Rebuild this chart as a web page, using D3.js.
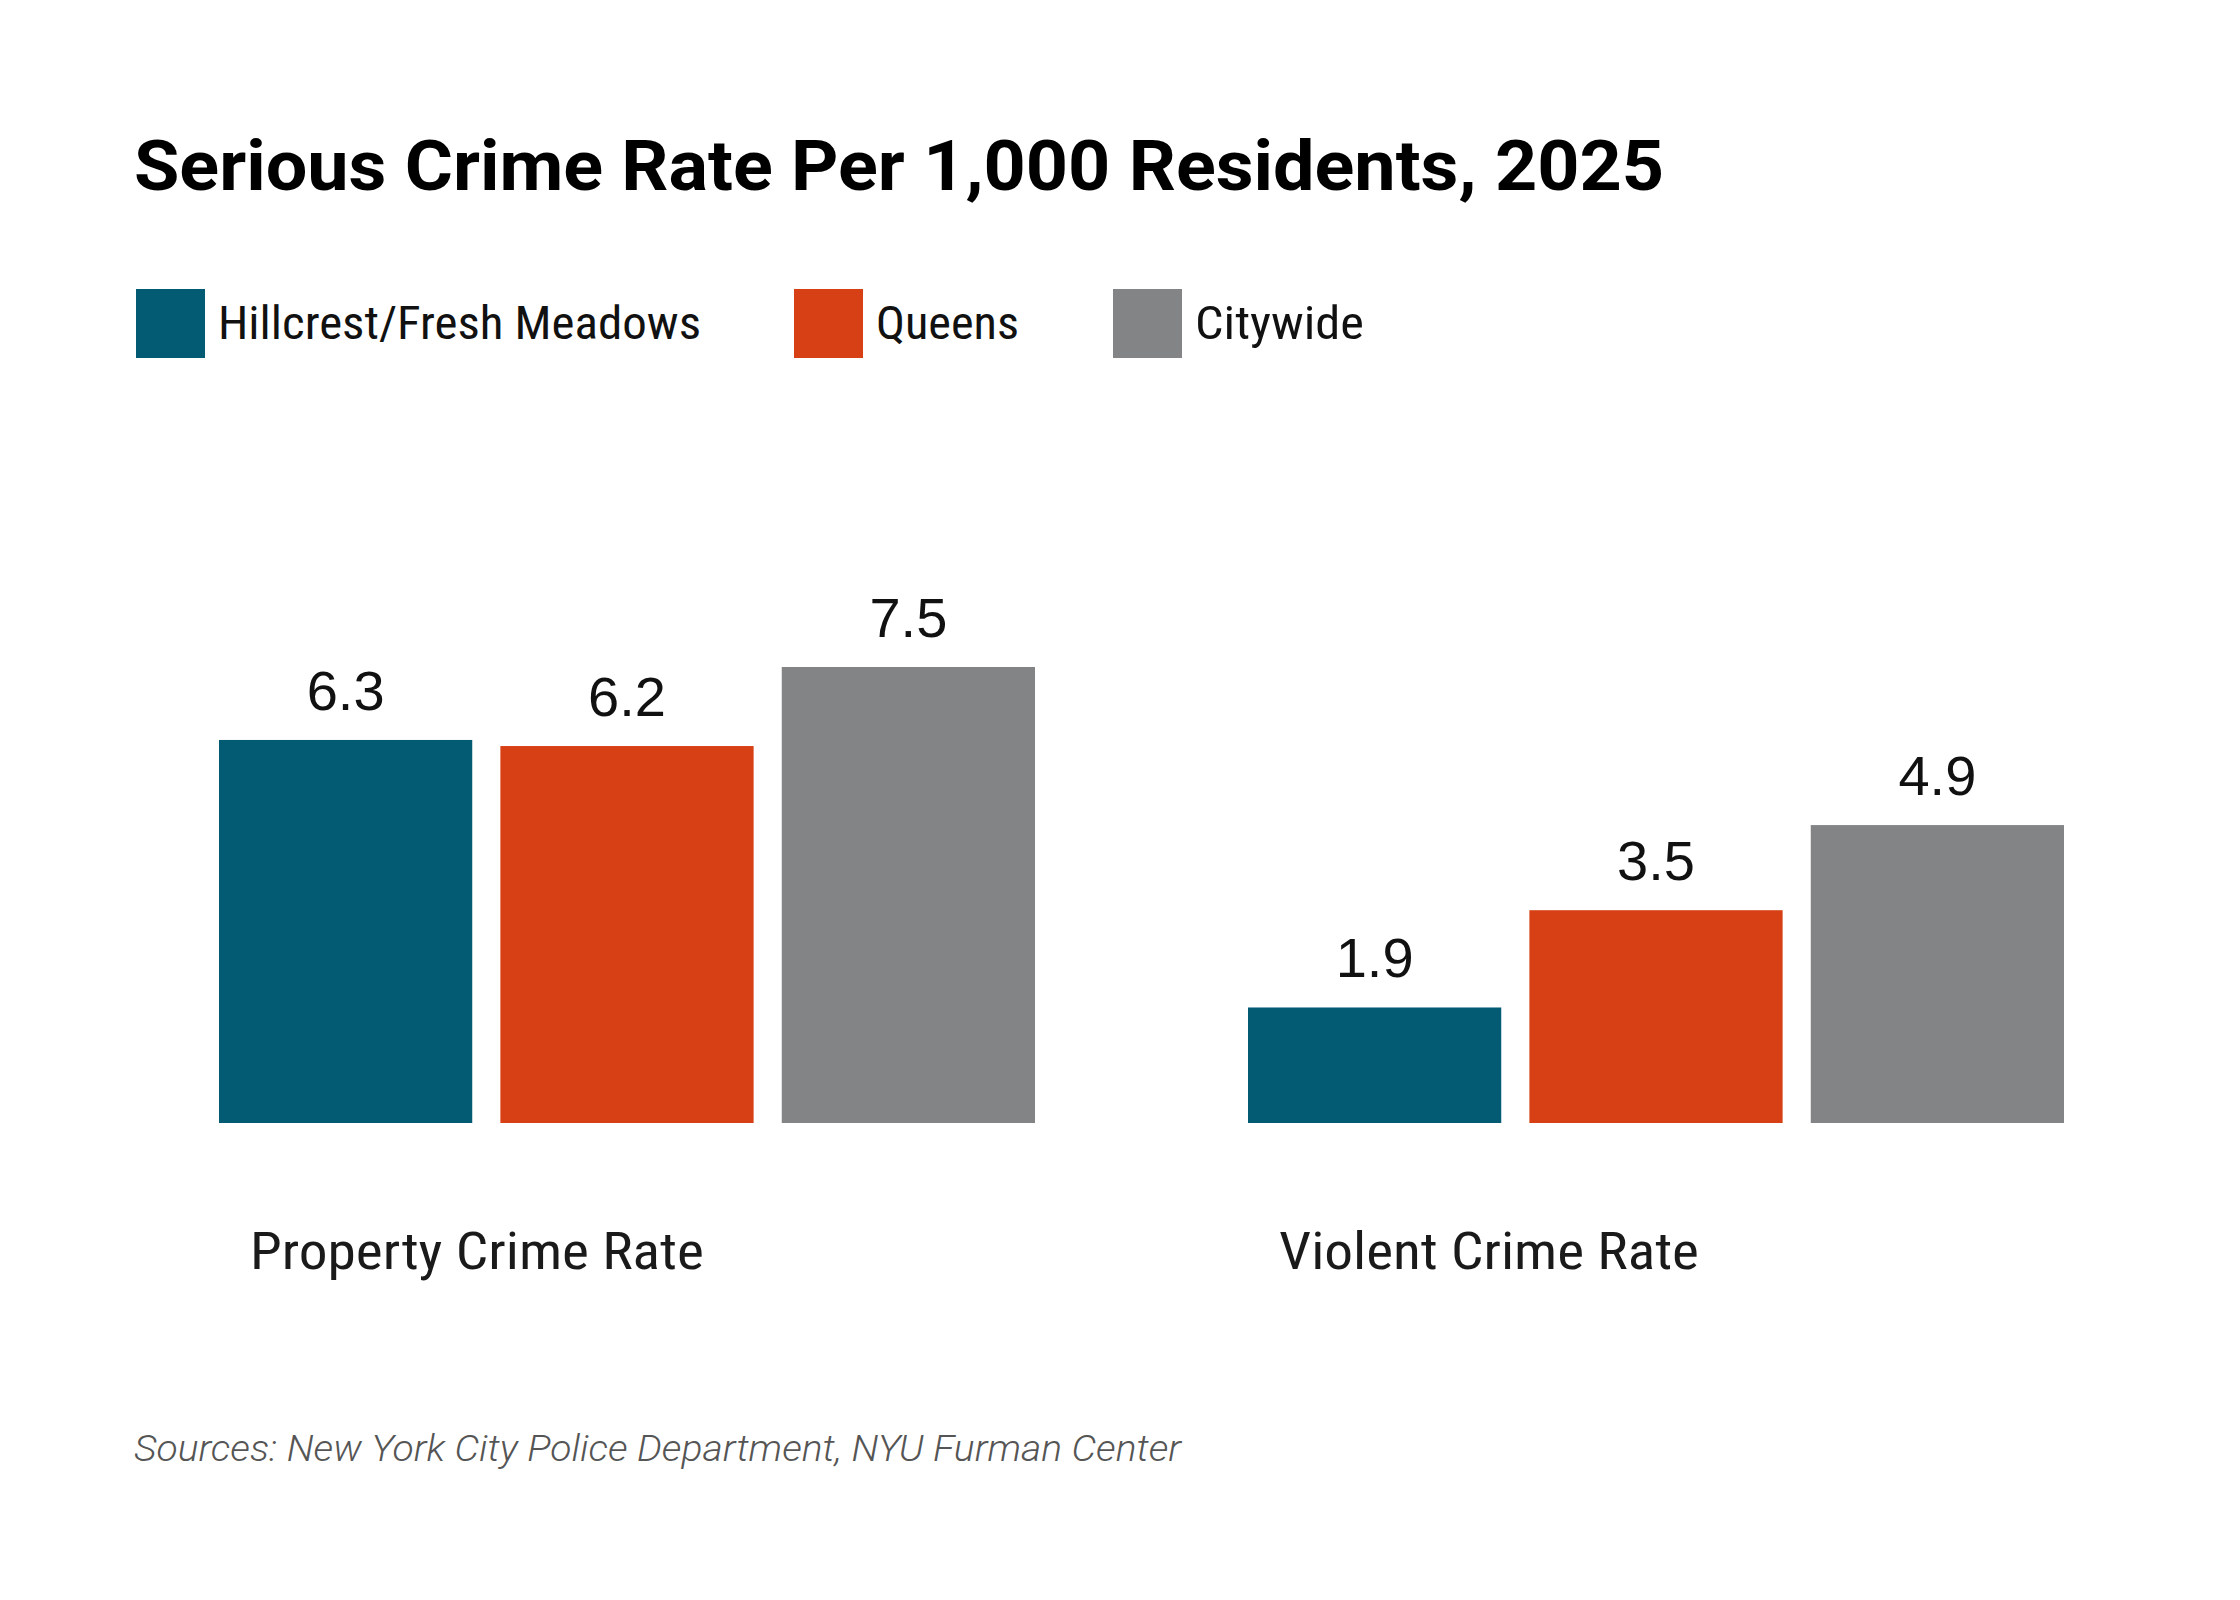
<!DOCTYPE html>
<html>
<head>
<meta charset="utf-8">
<script src="https://cdn.jsdelivr.net/npm/d3@7"></script>
<style>
  body { margin: 0; background: #fff; }
  svg { display: block; }
</style>
</head>
<body>
<svg id="chart" width="2240" height="1600"></svg>
<script>
"use strict";

// chart data
var categories = ["Property Crime Rate", "Violent Crime Rate"];
var seriesNames = ["Hillcrest/Fresh Meadows", "Queens", "Citywide"];
var hillcrestValues = [6.3, 1.9];
var queensValues = [6.2, 3.5];
var citywideValues = [7.5, 4.9];
var seriesColors = ["#025a73", "#d64014", "#838486"];

var titleText = "Serious Crime Rate Per 1,000 Residents, 2025";
var sourceText = "Sources: New York City Police Department, NYU Furman Center";

var seriesValues = [hillcrestValues, queensValues, citywideValues];

var svg = d3.select("#chart");
var condensed = "'Roboto Condensed', 'Liberation Sans Narrow', 'DejaVu Sans Condensed', Roboto, sans-serif";

// title
svg.append("text")
  .attr("x", 134)
  .attr("y", 190)
  .attr("textLength", 1530)
  .attr("lengthAdjust", "spacingAndGlyphs")
  .style("font-family", "Roboto, sans-serif")
  .style("font-weight", 700)
  .style("font-size", "71px")
  .style("fill", "#000")
  .text(titleText);

// legend
var legendX = [136, 794, 1113];
var legendWidths = [483, 143, 169];
var legend = svg.selectAll("g.legend")
  .data(seriesNames)
  .enter().append("g")
  .attr("class", "legend")
  .attr("transform", function(d, i){ return "translate(" + legendX[i] + ",289)"; });

legend.append("rect")
  .attr("width", 69)
  .attr("height", 69)
  .attr("fill", function(d, i){ return seriesColors[i]; });

legend.append("text")
  .attr("x", 82)
  .attr("y", 50)
  .attr("textLength", function(d, i){ return legendWidths[i]; })
  .attr("lengthAdjust", "spacingAndGlyphs")
  .style("font-family", condensed)
  .style("font-size", "47px")
  .style("fill", "#111")
  .text(function(d){ return d; });

// scales
var x0 = d3.scaleBand()
  .domain(categories)
  .range([219, 2064])
  .paddingInner(0.207);

var x1 = d3.scaleBand()
  .domain(seriesNames)
  .range([0, x0.bandwidth()])
  .paddingInner(0.1);

var y = d3.scaleLinear()
  .domain([0, 7.5])
  .range([1123, 667]);

var rows = categories.map(function(c, ci){
  return {
    category: c,
    values: seriesNames.map(function(s, si){
      return { series: s, index: si, value: seriesValues[si][ci] };
    })
  };
});

var groups = svg.selectAll("g.group")
  .data(rows)
  .enter().append("g")
  .attr("class", "group")
  .attr("transform", function(d){ return "translate(" + x0(d.category) + ",0)"; });

groups.selectAll("rect")
  .data(function(d){ return d.values; })
  .enter().append("rect")
  .attr("x", function(d){ return x1(d.series); })
  .attr("y", function(d){ return y(d.value); })
  .attr("width", x1.bandwidth())
  .attr("height", function(d){ return y(0) - y(d.value); })
  .attr("fill", function(d){ return seriesColors[d.index]; });

groups.selectAll("text.value")
  .data(function(d){ return d.values; })
  .enter().append("text")
  .attr("class", "value")
  .attr("x", function(d){ return x1(d.series) + x1.bandwidth() / 2; })
  .attr("y", function(d){ return y(d.value) - 30; })
  .attr("text-anchor", "middle")
  .style("font-family", "'Liberation Sans', Arial, sans-serif")
  .style("font-size", "56px")
  .style("fill", "#111")
  .text(function(d){ return d3.format(".1f")(d.value); });

// category labels under each group
var catWidths = [454, 420];
groups.append("text")
  .attr("x", 31)
  .attr("y", 1269)
  .attr("textLength", function(d, i){ return catWidths[i]; })
  .attr("lengthAdjust", "spacingAndGlyphs")
  .style("font-family", condensed)
  .style("font-size", "52px")
  .style("fill", "#1a1a1a")
  .text(function(d){ return d.category; });

// source note
svg.append("text")
  .attr("x", 134)
  .attr("y", 1461)
  .attr("textLength", 1047)
  .attr("lengthAdjust", "spacingAndGlyphs")
  .style("font-family", "Roboto, sans-serif")
  .style("font-style", "italic")
  .style("font-weight", 300)
  .style("font-size", "36px")
  .style("fill", "#555")
  .text(sourceText);
</script>
</body>
</html>
